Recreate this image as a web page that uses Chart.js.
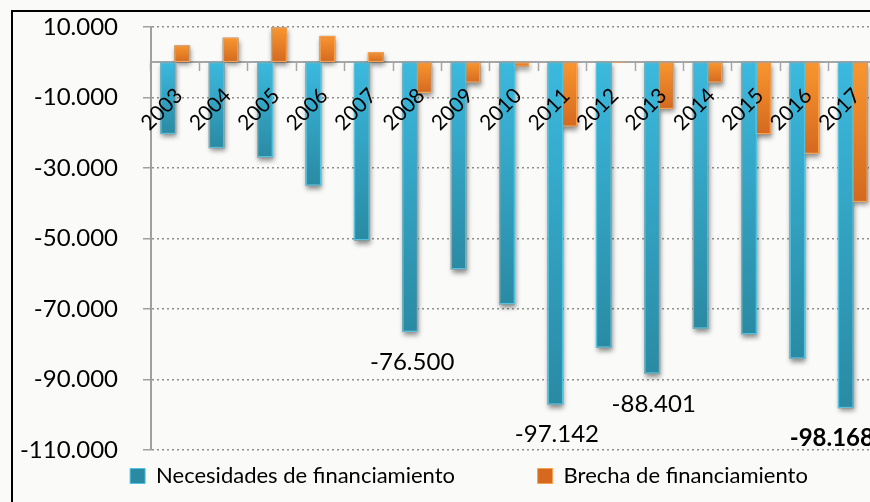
<!DOCTYPE html>
<html>
<head>
<meta charset="utf-8">
<script src="https://cdn.jsdelivr.net/npm/chart.js@4.4.1/dist/chart.umd.min.js"></script>
<style>
  html, body { margin: 0; padding: 0; background: #fafaf8; overflow: hidden; width: 870px; height: 502px; }
  #frame { position: absolute; left: 11px; top: 10px; width: 2000px; height: 2000px;
           border-left: 2px solid #000; border-top: 2px solid #000; box-sizing: border-box; }
  #wrap { position: absolute; left: 0; top: 0; width: 900px; height: 502px; }
</style>
</head>
<body>
<div id="frame"></div>
<div id="wrap"><canvas id="c" width="900" height="502"></canvas></div>
<script>
// ---- data ----
const categories = ['2003','2004','2005','2006','2007','2008','2009','2010','2011','2012','2013','2014','2015','2016','2017'];
const necesidades = [-20400, -24400, -27000, -35000, -50600, -76500, -58800, -68700, -97142, -81000, -88401, -75600, -77200, -84100, -98168];
const brecha = [4800, 7000, 9900, 7500, 2900, -8700, -5800, -1300, -18300, -300, -13300, -5800, -20500, -26000, -39700];
const yTickValues = [10000, -10000, -30000, -50000, -70000, -90000, -110000];
const yTickLabels = ['10.000', '-10.000', '-30.000', '-50.000', '-70.000', '-90.000', '-110.000'];
const labelledIndex = [5, 8, 10, 14];
const boldLabelIndex = [14];
const seriesNames = ['Necesidades de financiamiento', 'Brecha de financiamiento'];

function fmt(v) {
  const s = Math.abs(v).toString().replace(/\B(?=(\d{3})+(?!\d))/g, '.');
  return (v < 0 ? '-' : '') + s;
}

function gradFill(light, dark, solid) {
  return function(ctx) {
    const chart = ctx.chart;
    if (ctx.type !== 'data' || !chart.chartArea || !chart.scales.y) return solid;
    const y = chart.scales.y;
    const p0 = y.getPixelForValue(0), p1 = y.getPixelForValue(ctx.raw);
    const top = Math.min(p0, p1), bot = Math.max(p0, p1);
    if (bot - top < 1) return solid;
    const g = chart.ctx.createLinearGradient(0, top, 0, bot);
    g.addColorStop(0, light);
    g.addColorStop(1, dark);
    return g;
  };
}

const shadowPlugin = {
  id: 'barShadow',
  beforeDatasetsDraw(chart) {
    const ctx = chart.ctx;
    chart.data.datasets.forEach((ds, di) => {
      const meta = chart.getDatasetMeta(di);
      meta.data.forEach(el => {
        const {x, y, base, width} = el.getProps(['x', 'y', 'base', 'width'], true);
        const top = Math.min(y, base), h = Math.abs(base - y);
        if (h < 2) return;
        ctx.save();
        ctx.shadowColor = 'rgba(0,0,0,0.45)';
        ctx.shadowBlur = 5;
        ctx.shadowOffsetX = 1;
        ctx.shadowOffsetY = 3;
        ctx.fillStyle = '#888';
        ctx.fillRect(x - width / 2, top, width, h);
        ctx.restore();
      });
    });
  }
};

const labelPlugin = {
  id: 'valueLabels',
  afterDatasetsDraw(chart, args, opts) {
    const ctx = chart.ctx;
    const meta = chart.getDatasetMeta(0);
    ctx.save();
    ctx.textAlign = 'center';
    ctx.textBaseline = 'middle';
    ctx.fillStyle = '#000';
    labelledIndex.forEach(i => {
      const el = meta.data[i];
      const {x, y} = el.getProps(['x', 'y'], true);
      const bold = boldLabelIndex.includes(i);
      ctx.font = (bold ? 'bold ' : '') + '24px Lato';
      const dx = (opts.dx && opts.dx[i]) || 0;
      ctx.fillText(fmt(necesidades[i]), x + dx, y + opts.gap);
    });
    ctx.restore();
  }
};

// let the y-axis tick labels extend into the left margin without being clipped
const labelAreaPlugin = {
  id: 'yLabelArea',
  afterLayout(chart) { chart.scales.y.left = 0; }
};

const NB = '\u00A0';

const chart = new Chart(document.getElementById('c'), {
  type: 'bar',
  data: {
    labels: categories,
    datasets: [
      {
        label: seriesNames[0],
        data: necesidades,
        backgroundColor: gradFill('#3bb9de', '#2a8aa3', '#31a5c8'),
        borderColor: '#52c2e0',
        borderWidth: 1.5,
        borderSkipped: false,
        categoryPercentage: 0.578,
        barPercentage: 1.14
      },
      {
        label: seriesNames[1],
        data: brecha,
        backgroundColor: gradFill('#f9962f', '#d4691f', '#f08a2c'),
        borderColor: '#f8a04e',
        borderWidth: 1.5,
        borderSkipped: false,
        categoryPercentage: 0.578,
        barPercentage: 1.14
      }
    ]
  },
  options: {
    responsive: false,
    animation: false,
    events: [],
    layout: { padding: { left: 61, right: 23, top: 27, bottom: 5 } },
    scales: {
      x: {
        position: { y: 0 },
        grid: { display: true, offset: true, drawOnChartArea: false, drawTicks: true, tickLength: 8, tickColor: '#a6a6a6', tickWidth: 1.5 },
        border: { display: true, color: '#a6a6a6', width: 2 },
        ticks: { z: 1, autoSkip: false, minRotation: 45, maxRotation: 45, padding: 13, labelOffset: 4, color: '#000', font: { family: 'Lato', size: 21 } }
      },
      y: {
        min: -110000,
        max: 10000,
        afterBuildTicks(scale) { scale.ticks = yTickValues.map(v => ({ value: v })); },
        afterFit(scale) { scale.width = 90; scale.paddingTop = 13; scale.paddingBottom = 13; },
        grid: { color: '#8f8f8f', lineWidth: 1.5, drawTicks: true, tickLength: 8, tickColor: '#a0a0a0', tickWidth: 1.5 },
        border: { display: true, color: '#a0a0a0', width: 2, dash: [2, 3] },
        ticks: {
          padding: 25,
          color: '#000',
          font: { family: 'Lato', size: 24 },
          callback(value) { const i = yTickValues.indexOf(value); return i >= 0 ? yTickLabels[i] : ''; }
        }
      }
    },
    plugins: {
      legend: {
        position: 'bottom',
        labels: {
          color: '#000',
          font: { family: 'Lato', size: 22 },
          boxWidth: 15,
          boxHeight: 15,
          padding: 15,
          generateLabels(chart) {
            const items = Chart.defaults.plugins.legend.labels.generateLabels(chart);
            items.forEach((it, i) => {
              it.lineWidth = 1;
              if (i === 0) it.text = it.text + NB.repeat(12);
            });
            return items;
          }
        }
      },
      tooltip: { enabled: false },
      valueLabels: { gap: 30, dx: { 5: 2, 8: 1.5, 10: 1.5, 14: -14 } }
    }
  },
  plugins: [shadowPlugin, labelPlugin, labelAreaPlugin]
});
</script>
</body>
</html>
